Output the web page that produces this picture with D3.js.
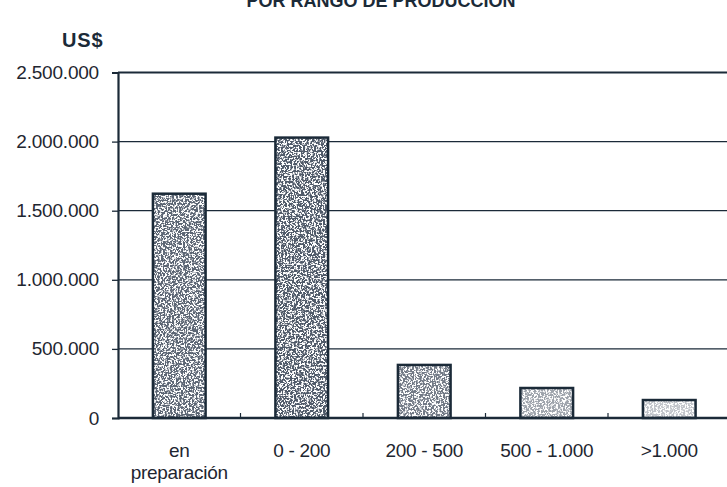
<!DOCTYPE html>
<html><head><meta charset="utf-8">
<script src="https://cdn.jsdelivr.net/npm/d3@7"></script>
<style>body{margin:0;background:#fff}svg{display:block}</style>
</head><body>
<svg id="c" width="727" height="487"></svg>
<script>
const categories = ["en preparación", "0 - 200", "200 - 500", "500 - 1.000", ">1.000"];
const values = [1623000, 2029000, 384000, 217000, 130000];
const yTicks = [0, 500000, 1000000, 1500000, 2000000, 2500000];
const yTickLabels = ["0", "500.000", "1.000.000", "1.500.000", "2.000.000", "2.500.000"];
const darkness = [0.92, 1.0, 0.8, 0.55, 0.35];

const ink = "#1b2a38";
const svg = d3.select("#c");
const m = {l:118, t:72.5, r:730.5, b:418};
const x = d3.scaleBand().domain(categories).range([m.l, m.r]).paddingInner(0.57).paddingOuter(0.285);
const y = d3.scaleLinear().domain([0, 2500000]).range([m.b, m.t]);

const defs = svg.append("defs");
const f = defs.append("filter").attr("id","speck").attr("x","0").attr("y","0").attr("width","1").attr("height","1");
f.append("feTurbulence").attr("type","fractalNoise").attr("baseFrequency","0.55").attr("numOctaves","3").attr("seed","4").attr("result","n");
f.append("feColorMatrix").attr("in","n").attr("type","matrix")
 .attr("values","0 0 0 0 0.08  0 0 0 0 0.1  0 0 0 0 0.14  -8 0 0 0 4.7").attr("result","a");
f.append("feComposite").attr("in","a").attr("in2","SourceGraphic").attr("operator","in");

// title (cut at the top edge, as in the reference)
svg.append("text").attr("x", 381).attr("y", 7).attr("text-anchor","middle")
  .attr("font-family","Liberation Sans, Arial, sans-serif").attr("font-weight","bold").attr("font-size",18)
  .attr("fill", ink).text("POR RANGO DE PRODUCCIÓN");
svg.append("text").attr("x", 62).attr("y", 47)
  .attr("font-family","Liberation Sans, Arial, sans-serif").attr("font-weight","bold").attr("font-size",20)
  .attr("letter-spacing","0.8px").attr("fill", ink).text("US$");

// gridlines
svg.append("g").selectAll("line").data(yTicks.slice(1)).join("line")
  .attr("x1", m.l).attr("x2", m.r).attr("y1", d=>y(d)).attr("y2", d=>y(d))
  .attr("stroke", ink).attr("stroke-width", d=> d===2500000 ? 2 : 1.3);

// y axis
const ya = d3.axisLeft(y).tickValues(yTicks).tickFormat((d,i)=>yTickLabels[i]).tickSize(6).tickPadding(13);
const gy = svg.append("g").attr("transform",`translate(${m.l},0)`).call(ya);
gy.select(".domain").attr("stroke", ink).attr("stroke-width", 2.2);
gy.selectAll(".tick line").attr("stroke", ink).attr("stroke-width", 1.3);
gy.selectAll(".tick text").attr("font-family","Liberation Sans, Arial, sans-serif").attr("font-size",19)
  .attr("letter-spacing","-0.2px").attr("fill", "#1e2630");

// bars
const bars = svg.append("g");
bars.selectAll("rect.base").data(values).join("rect").attr("class","base")
  .attr("x",(d,i)=>x(categories[i])).attr("width", x.bandwidth())
  .attr("y", d=>y(d)).attr("height", d=>y(0)-y(d)).attr("fill","#fff");
bars.selectAll("rect.tex").data(values).join("rect").attr("class","tex")
  .attr("x",(d,i)=>x(categories[i])).attr("width", x.bandwidth())
  .attr("y", d=>y(d)).attr("height", d=>y(0)-y(d)).attr("fill","#000")
  .attr("filter","url(#speck)").attr("opacity",(d,i)=>darkness[i]);
bars.selectAll("rect.edge").data(values).join("rect").attr("class","edge")
  .attr("x",(d,i)=>x(categories[i])).attr("width", x.bandwidth())
  .attr("y", d=>y(d)).attr("height", d=>y(0)-y(d)).attr("fill","none")
  .attr("stroke", ink).attr("stroke-width", 2.5);

// x axis baseline + inner ticks at category boundaries
const step = x.step();
svg.append("line").attr("x1", m.l).attr("x2", m.r).attr("y1", y(0)).attr("y2", y(0)).attr("stroke", ink).attr("stroke-width", 2.6);
svg.append("g").selectAll("line").data(categories.slice(1)).join("line")
  .attr("x1", d=>x(d) - (step - x.bandwidth())/2).attr("x2", d=>x(d) - (step - x.bandwidth())/2)
  .attr("y1", y(0)).attr("y2", y(0)-5).attr("stroke", ink).attr("stroke-width", 1.2);

// x labels
const xl = svg.append("g").attr("font-family","Liberation Sans, Arial, sans-serif").attr("font-size",19).attr("fill","#1e2630").attr("letter-spacing","-0.3px");
categories.forEach(c=>{
  const parts = c === "en preparación" ? ["en","preparación"] : [c];
  const cx = x(c)+x.bandwidth()/2;
  const t = xl.append("text").attr("text-anchor","middle").attr("x", cx).attr("y", 457);
  parts.forEach((p,j)=> t.append("tspan").attr("x", cx).attr("dy", j? 22:0).text(p));
});
</script>
</body></html>
